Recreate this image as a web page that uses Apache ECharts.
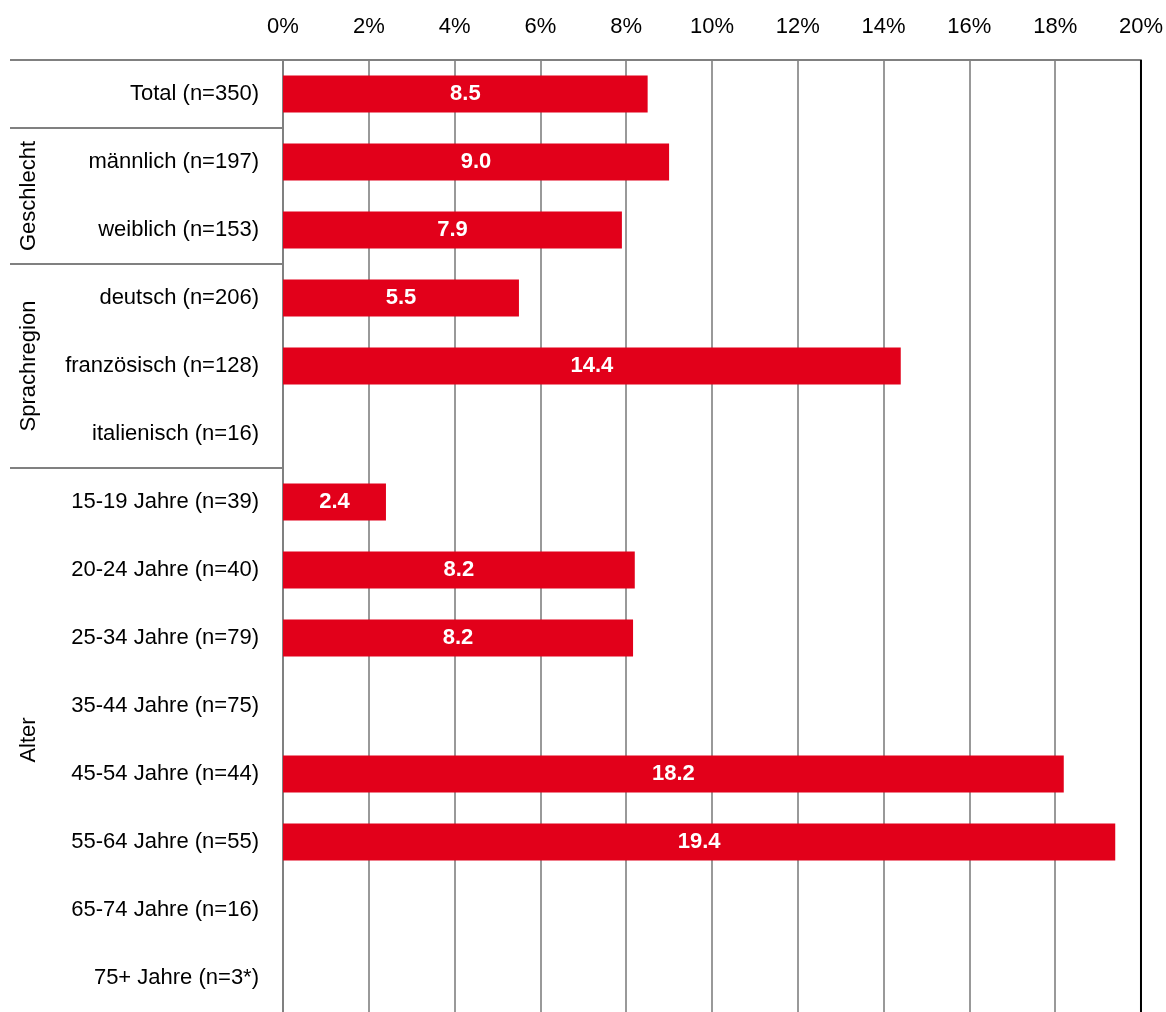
<!DOCTYPE html>
<html>
<head>
<meta charset="utf-8">
<script src="https://cdn.jsdelivr.net/npm/echarts@6/dist/echarts.min.js"></script>
<style>
html,body{margin:0;padding:0;background:#fff;}
#chart{width:1166px;height:1012px;}
</style>
</head>
<body>
<div id="chart"></div>
<script>
var categories = ['Total (n=350)', 'männlich (n=197)', 'weiblich (n=153)', 'deutsch (n=206)', 'französisch (n=128)', 'italienisch (n=16)', '15-19 Jahre (n=39)', '20-24 Jahre (n=40)', '25-34 Jahre (n=79)', '35-44 Jahre (n=75)', '45-54 Jahre (n=44)', '55-64 Jahre (n=55)', '65-74 Jahre (n=16)', '75+ Jahre (n=3*)'];
var values = [8.5, 9.0, 7.9, 5.5, 14.4, null, 2.4, 8.2, 8.16, null, 18.2, 19.4, null, null];
var xTicks = ['0%', '2%', '4%', '6%', '8%', '10%', '12%', '14%', '16%', '18%', '20%'];
var groups = [
  {name: 'Geschlecht', from: 1, to: 2},
  {name: 'Sprachregion', from: 3, to: 5},
  {name: 'Alter', from: 6, to: 13}
];

var FONT = '"Liberation Sans", Arial, sans-serif';
var chart = echarts.init(document.getElementById('chart'), null, {renderer: 'canvas'});
var option = {
  backgroundColor: '#ffffff',
  animation: false,
  grid: {left: 283, right: 25, top: 60, bottom: 0, containLabel: false},
  xAxis: {
    type: 'value', position: 'top', min: 0, max: 20, interval: 2,
    axisLine: {show: true, lineStyle: {color: '#808080', width: 2}},
    axisTick: {show: false},
    axisLabel: {
      color: '#000', fontFamily: FONT, fontSize: 22, margin: 22,
      formatter: function (v) { return xTicks[Math.round(v / 2)]; }
    },
    splitLine: {show: true, lineStyle: {color: '#999999', width: 2}}
  },
  yAxis: {
    type: 'category', inverse: true, data: categories,
    axisLine: {show: true, lineStyle: {color: '#808080', width: 2}},
    axisTick: {show: false},
    axisLabel: {color: '#000', fontFamily: FONT, fontSize: 22, margin: 24}
  },
  series: [{
    type: 'bar', data: values, barWidth: 37,
    itemStyle: {color: '#E2001A'},
    label: {
      show: true, position: 'inside', color: '#fff', fontFamily: FONT,
      fontWeight: 'bold', fontSize: 22,
      formatter: function (p) { return p.value == null ? '' : p.value.toFixed(1); }
    }
  }]
};
chart.setOption(option);

function yEdge(i, side) {
  var c = chart.convertToPixel({yAxisIndex: 0}, categories[i]);
  var next = chart.convertToPixel({yAxisIndex: 0}, categories[Math.min(i + 1, categories.length - 1)]);
  var band = Math.abs(next - c) || 68;
  return side < 0 ? c - band / 2 : c + band / 2;
}
var x0 = chart.convertToPixel({xAxisIndex: 0}, 0);
var x20 = chart.convertToPixel({xAxisIndex: 0}, 20);
var gridTop = yEdge(0, -1);
var gridBottom = yEdge(categories.length - 1, 1);
var gfx = [];
var seps = [0, 1, 3, 6];
seps.forEach(function (i) {
  var y = Math.round(yEdge(i, -1));
  gfx.push({type: 'line', shape: {x1: 10, y1: y, x2: x0, y2: y}, style: {stroke: '#808080', lineWidth: 2}, z: 10});
});
groups.forEach(function (g) {
  var yc = (yEdge(g.from, -1) + yEdge(g.to, 1)) / 2;
  gfx.push({
    type: 'text', x: 29, y: yc, rotation: Math.PI / 2,
    style: {text: g.name, fontFamily: FONT, fontSize: 22, fill: '#000', align: 'center', verticalAlign: 'middle'},
    z: 10
  });
});
gfx.push({type: 'line', shape: {x1: x20, y1: gridTop, x2: x20, y2: gridBottom + 2}, style: {stroke: '#000', lineWidth: 2}, z: 10});
chart.setOption({graphic: gfx});
</script>
</body>
</html>
